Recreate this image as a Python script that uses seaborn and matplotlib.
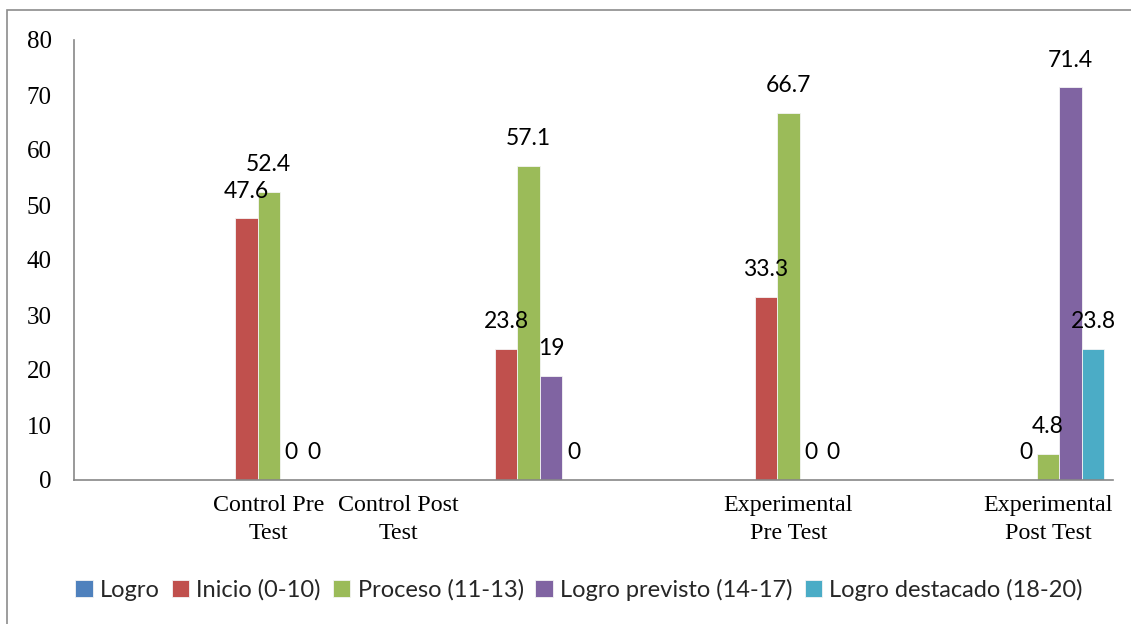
import numpy as np
import pandas as pd
import matplotlib
matplotlib.use("Agg")
import matplotlib.pyplot as plt
from matplotlib.patches import Rectangle
import seaborn as sns

# Groups and achievement levels (percent of students)
grupos = ["Control Pre Test", "Control Post Test",
          "Experimental Pre Test", "Experimental Post Test"]
grupo_etiquetas = ["Control Pre\nTest", "Control Post\nTest",
                   "Experimental\nPre Test", "Experimental\nPost Test"]
grupo_ticks = [0, 0.5, 2, 3]

niveles = ["Logro", "Inicio (0-10)", "Proceso (11-13)",
           "Logro previsto (14-17)", "Logro destacado (18-20)"]
logro = [np.nan, np.nan, np.nan, np.nan]
inicio = [47.6, 23.8, 33.3, 0]
proceso = [52.4, 57.1, 66.7, 4.8]
previsto = [0, 19, 0, 71.4]
destacado = [0, 0, 0, 23.8]

colores = ["#4F81BD", "#C0504D", "#9BBB59", "#8064A2", "#4BACC6"]

valores = [logro, inicio, proceso, previsto, destacado]
df = pd.DataFrame({
    "grupo": [g for _ in niveles for g in grupos],
    "nivel": [n for n in niveles for _ in grupos],
    "valor": [v for serie in valores for v in serie],
})

sns.set_theme(style="white")
plt.rcParams["font.family"] = ["Lato", "DejaVu Sans"]

fig = plt.figure(figsize=(11.31, 6.24), dpi=100)
ax = fig.add_axes([74 / 1131, 144 / 624, (1113 - 74) / 1131, 440 / 624])

sns.barplot(data=df, x="grupo", y="valor", hue="nivel",
            order=grupos, hue_order=niveles, palette=colores,
            width=0.433, errorbar=None, ax=ax,
            edgecolor="#f4f4f4", linewidth=0.6, saturation=1)

# value labels above each bar
for cont in ax.containers:
    vals = cont.datavalues
    etiquetas = ["" if np.isnan(v) else f"{v:g}" for v in vals]
    ax.bar_label(cont, labels=etiquetas, padding=12, fontsize=16.5,
                 color="black", family=["Lato", "DejaVu Sans"])

ax.set_xlim(-0.75, 3.25)
ax.set_ylim(0, 80)
ax.set_yticks(range(0, 81, 10))
ax.set_xticks(grupo_ticks)
ax.set_xticklabels(grupo_etiquetas, family="Liberation Serif",
                   fontsize=17.3, linespacing=1.4)
for t in ax.get_yticklabels():
    t.set_family("Liberation Serif")
    t.set_fontsize(18)
ax.tick_params(axis="y", length=0, pad=16, colors="black")
ax.tick_params(axis="x", length=0, pad=11, colors="black")
ax.set_xlabel("")
ax.set_ylabel("")
ax.grid(False)

for s in ["top", "right"]:
    ax.spines[s].set_visible(False)
for s in ["left", "bottom"]:
    ax.spines[s].set_color("#878787")
    ax.spines[s].set_linewidth(1.2)

# legend along the bottom
handles, labels = ax.get_legend_handles_labels()
if ax.legend_:
    ax.legend_.remove()
fig.legend(handles, labels, loc="center",
           bbox_to_anchor=(579 / 1131, 1 - 590 / 624),
           ncol=5, frameon=False,
           handlelength=0.75, handleheight=0.75, handletextpad=0.3,
           columnspacing=0.5, prop={"family": ["Lato", "DejaVu Sans"], "size": 17})

# chart-area border
fig.patches.append(Rectangle((7 / 1131, -0.1), 1.2, 1 - 10 / 624 + 0.1,
                             transform=fig.transFigure, fill=False,
                             edgecolor="#8c8c8c", linewidth=1.2,
                             clip_on=False))

fig.savefig("out.png", dpi=100, facecolor="white")
